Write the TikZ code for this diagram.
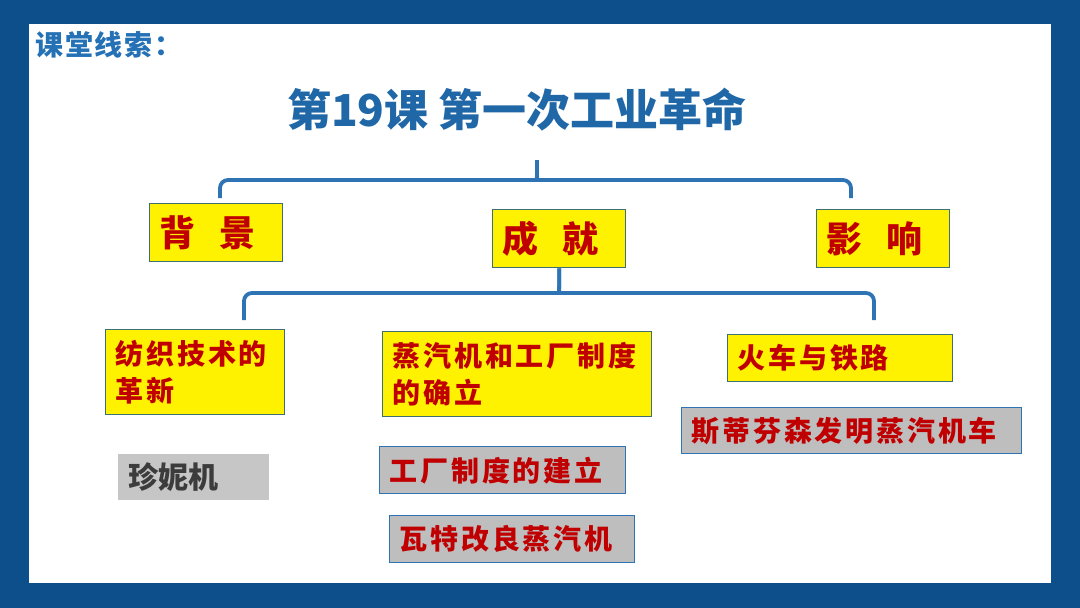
\documentclass[tikz,border=0pt]{standalone}
\usepackage{fontspec}
\newfontfamily\cjk{Noto Sans CJK SC}
\newfontfamily\cjksp[LetterSpace=10]{Noto Sans CJK SC}
\newfontfamily\cjkhead[LetterSpace=6]{Noto Sans CJK SC}
\usetikzlibrary{positioning}

\definecolor{frameblue}{HTML}{0C4F8A}
\definecolor{titleblue}{HTML}{1F67A6}
\definecolor{headblue}{HTML}{2471B5}
\definecolor{braceblue}{HTML}{2E74B5}
\definecolor{boxedge}{HTML}{3F6F73}
\definecolor{boxred}{HTML}{C00000}
\definecolor{boxgray}{HTML}{BEBEBE}
\definecolor{jennygray}{HTML}{C6C6C6}
\definecolor{jennytext}{HTML}{3C3C3C}

\begin{document}
\begin{tikzpicture}[x=1pt,y=-1pt,
    brace/.style={draw=braceblue,line width=3.8pt,rounded corners=8pt},
    ybox/.style={draw=boxedge,line width=1.4pt,fill=yellow,text=boxred,
      anchor=north west,inner xsep=10pt,align=left},
    gbox/.style={draw=braceblue,line width=1.4pt,fill=boxgray,text=boxred,
      anchor=north west,inner xsep=10pt,align=left},
    bigtxt/.style={font=\cjk\bfseries\fontsize{36}{40}\selectfont},
    smalltxt/.style={font=\cjksp\bfseries\fontsize{28}{37}\selectfont}]
					% frame
					\fill[frameblue] (0,0) rectangle (1080,608);
					\fill[white] (29,24) rectangle (1051,583);
					\useasboundingbox (0,0) rectangle (1080,608);

					\node (head) [anchor=west,text=headblue,font=\cjkhead\bfseries\fontsize{28}{30}\selectfont] at (32,45) {课堂线索：};
					\node (title) [text=titleblue,font=\cjk\bfseries\fontsize{44}{46}\selectfont] at (517,110) {第19课 第一次工业革命};

					% first level
					\node (bj) [ybox,bigtxt,minimum height=58,text width=113] at (149,203) {背\hspace{24pt}景};
					\node (cj) [ybox,bigtxt,minimum height=58,text width=113] at (492,209) {成\hspace{24pt}就};
					\node (yx) [ybox,bigtxt,minimum height=58,text width=113] at (816,209) {影\hspace{24pt}响};

					\coordinate (b1l) at (220,198);
					\coordinate (b1r) at (851,198);
					\coordinate (b1t) at (537,160);
					\draw[brace] (b1l) |- (528,180) .. controls (537,180) .. (b1t);
					\draw[brace] (b1r) |- (546,180) .. controls (537,180) .. (b1t);

					% second level
					\node (fz) [ybox,smalltxt,minimum height=85,text width=159] at (105,329) {纺织技术的\\革新};
					\node (zq) [ybox,smalltxt,minimum height=85,text width=249] at (382,331) {蒸汽机和工厂制度\\的确立};
					\node (hc) [ybox,smalltxt,minimum height=47,text width=205] at (727,334) {火车与铁路};

					\coordinate (b2l) at (244,320);
					\coordinate (b2r) at (874,320);
					\draw[brace] (b2l) |- (550,293) .. controls (cj.south |- 0,293) .. (cj.south);
					\draw[brace] (b2r) |- (567,293) .. controls (cj.south |- 0,293) .. (cj.south);

					% details
					\node (jn) [anchor=north west,fill=jennygray,text=jennytext,inner xsep=10pt,align=left,
					  minimum height=46,text width=131,font=\cjk\bfseries\fontsize{30}{32}\selectfont] at (118,454) {珍妮机};
					\node (gc) [gbox,smalltxt,minimum height=47,text width=226] at (379,446) {工厂制度的建立};
					\node (wt) [gbox,smalltxt,minimum height=47,text width=225] at (389,515) {瓦特改良蒸汽机};
					\node (sd) [gbox,smalltxt,minimum height=46,text width=320] at (681,407) {斯蒂芬森发明蒸汽机车};
				\end{tikzpicture}
\end{document}
